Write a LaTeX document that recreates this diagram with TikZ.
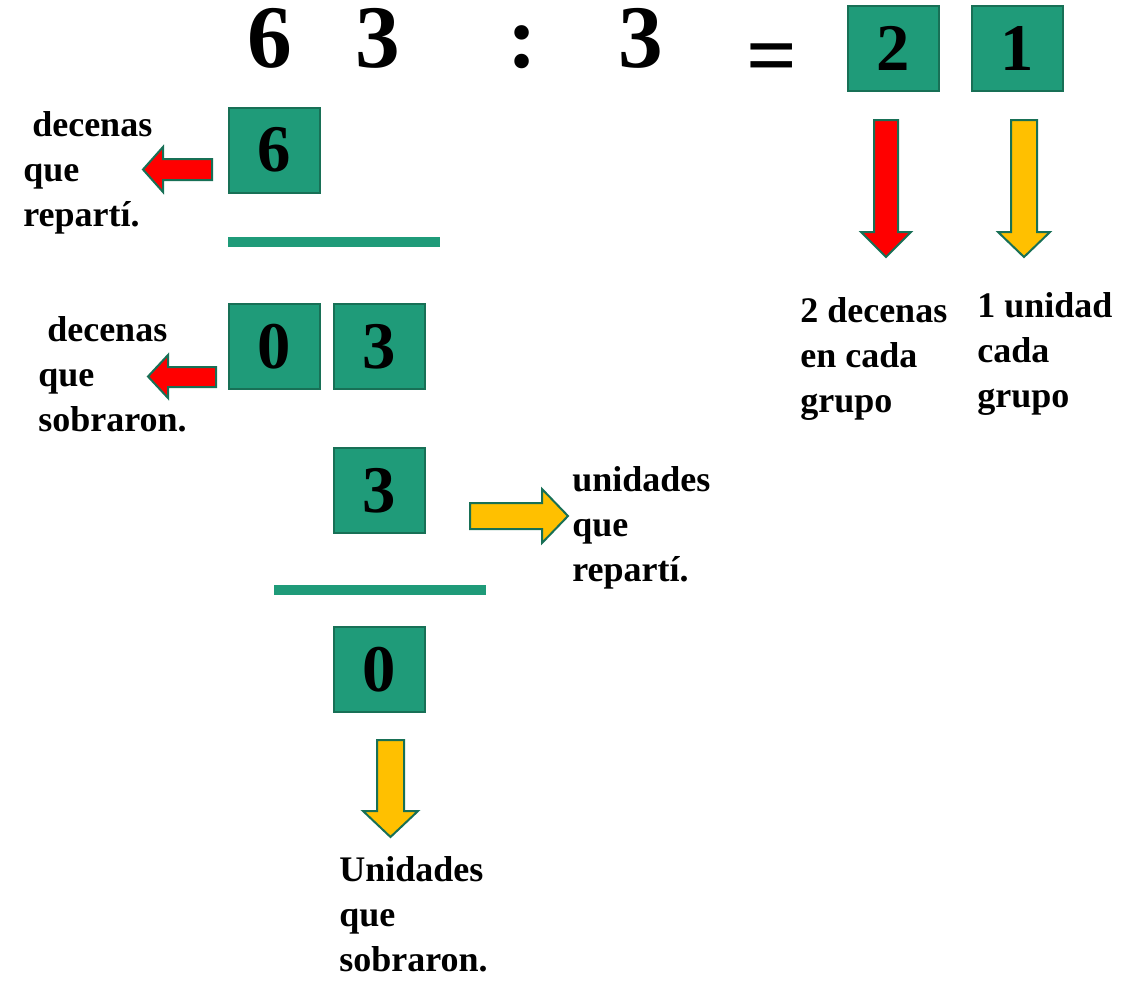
\documentclass[tikz,border=0pt]{standalone}
\usepackage{fontspec}
\setmainfont{Liberation Serif}[BoldFont={Liberation Serif Bold}]
\definecolor{kasten}{RGB}{31,155,121}
\definecolor{rand}{RGB}{24,112,86}
\definecolor{gelb}{RGB}{255,192,0}
\begin{document}
\begin{tikzpicture}[x=0.75pt,y=-0.75pt,font=\bfseries,
  ziffer/.style={draw=rand,fill=kasten,line width=1.5pt,minimum width=68.25pt,minimum height=63.75pt,inner sep=0pt,font=\fontsize{50}{50}\selectfont\bfseries},
  gross/.style={anchor=base,inner sep=0pt,font=\fontsize{67}{67}\selectfont\bfseries},
  etikett/.style={anchor=base west,align=left,inner sep=0pt,font=\fontsize{27}{33.4}\selectfont\bfseries},
  strich/.style={draw=kasten,line width=7.5pt},
  rotpfeil/.style={draw=rand,fill=red,line width=1.5pt},
  gelbpfeil/.style={draw=rand,fill=gelb,line width=1.5pt}]
  \useasboundingbox (0,0) rectangle (1143,996);

  % Rechnung
  \node[gross] (z6) at (270,67) {6};
  \node[gross] (z3) at (378,67) {3};
  \node[gross] (geteilt) at (522,67) {:};
  \node[gross] (divisor) at (641,67) {3};
  \node[gross] (gleich) at (772,85) {=};

  % Kaesten
  \node[ziffer] (q2) at (893.5,48.5) {2};
  \node[ziffer] (q1) at (1017,48.5) {1};
  \node[ziffer] (b6) at (274,150) {6};
  \node[ziffer] (b0) at (274,346.5) {0};
  \node[ziffer] (b3) at (379.5,346.5) {3};
  \node[ziffer] (c3) at (379.5,490.5) {3};
  \node[ziffer] (r0) at (379.5,669.5) {0};

  % Striche
  \draw[strich] (228,242) -- (440,242);
  \draw[strich] (274,590) -- (486,590);

  % Pfeile
  \draw[rotpfeil] (212,159) -- (163,159) -- (163,147) -- (143,169.5) -- (163,192) -- (163,180) -- (212,180) -- cycle;
  \draw[rotpfeil] (216,367) -- (168,367) -- (168,355) -- (148,376.5) -- (168,398) -- (168,387) -- (216,387) -- cycle;
  \draw[rotpfeil] (874,120) -- (898,120) -- (898,232) -- (911,232) -- (886,257) -- (861,232) -- (874,232) -- cycle;
  \draw[gelbpfeil] (1011,120) -- (1037,120) -- (1037,232) -- (1050,232) -- (1024,257) -- (998,232) -- (1011,232) -- cycle;
  \draw[gelbpfeil] (470,503) -- (542,503) -- (542,489) -- (568,516) -- (542,543) -- (542,529) -- (470,529) -- cycle;
  \draw[gelbpfeil] (377,740) -- (404,740) -- (404,811) -- (418,811) -- (390.5,837) -- (363,811) -- (377,811) -- cycle;

  % Beschriftungen (Grundlinie der letzten Zeile)
  \node[etikett] (l1) at (23,226) {\hspace*{.25em}decenas\\que\\repartí.};
  \node[etikett] (l2) at (38,431) {\hspace*{.25em}decenas\\que\\sobraron.};
  \node[etikett] (l3) at (572,581) {unidades\\que\\repartí.};
  \node[etikett] (l4) at (339,971) {Unidades\\que\\sobraron.};
  \node[etikett] (l5) at (800,412) {2 decenas\\en cada\\grupo};
  \node[etikett] (l6) at (977,407) {1 unidad\\cada\\grupo};
\end{tikzpicture}
\end{document}
